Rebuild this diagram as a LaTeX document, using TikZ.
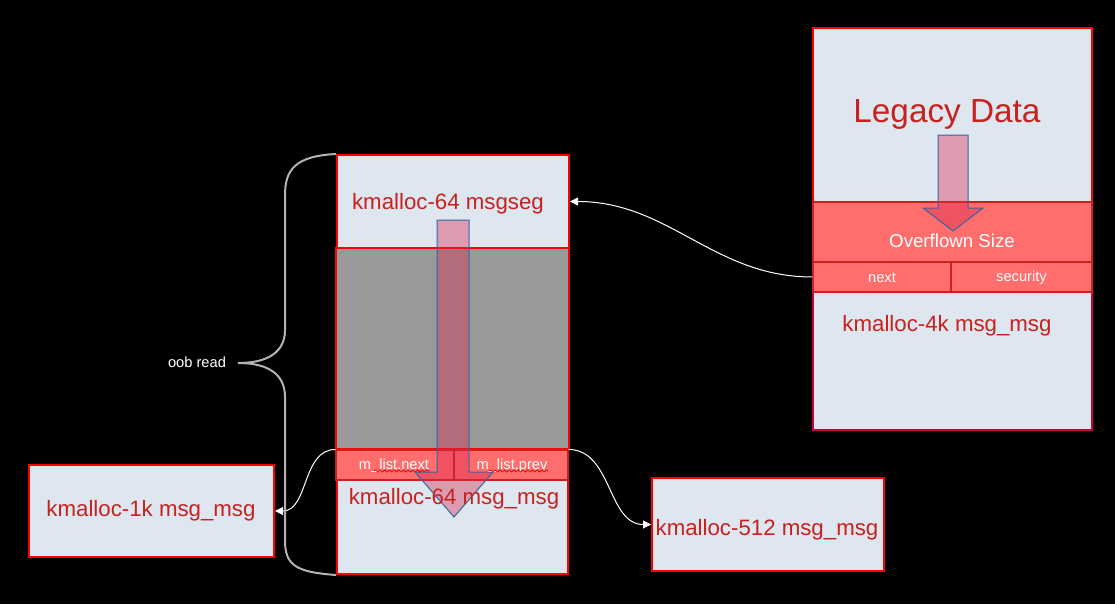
\documentclass[tikz,border=0pt]{standalone}
\usepackage{fontspec}
\setmainfont{Liberation Sans}
\usetikzlibrary{arrows.meta,decorations.pathmorphing}
\definecolor{boxfill}{HTML}{DEE6EF}
\definecolor{stripfill}{HTML}{FF6D6D}
\definecolor{txtred}{HTML}{C9211E}
\definecolor{bordred}{HTML}{FF0000}
\definecolor{crimson}{HTML}{C8003C}
\definecolor{arrowfill}{RGB}{217,43,79}
\definecolor{arrowline}{HTML}{3465A4}
\definecolor{grayfill}{HTML}{999999}
\definecolor{bracegray}{HTML}{B3B3B3}
\begin{document}
\begin{tikzpicture}[x=0.75pt,y=-0.75pt,
  box/.style={draw=bordred, line width=1.5pt, fill=boxfill, rectangle, inner sep=0pt},
  graybox/.style={draw=bordred, line width=1.5pt, fill=grayfill, rectangle, inner sep=0pt},
  cell/.style={draw=txtred, line width=0.8pt, fill=stripfill, rectangle, inner sep=0pt},
  lbl/.style={text=txtred, inner sep=0pt, font=\fontsize{16.7}{20}\selectfont},
  biglbl/.style={text=txtred, inner sep=0pt, font=\fontsize{25}{30}\selectfont},
  celltxt/.style={text=white, inner sep=0pt, font=\fontsize{11}{13}\selectfont},
  midtxt/.style={text=white, inner sep=0pt, font=\fontsize{14}{17}\selectfont},
  conn/.style={draw=white, line width=0.75pt, -{Triangle[length=6pt,width=6pt]}},
  bigarrow/.style={fill=arrowfill, fill opacity=0.4, draw=arrowline, draw opacity=1, line width=0.75pt},
  squig/.style={draw=red!85!black, line width=0.5pt, decorate, decoration={snake, amplitude=0.8pt, segment length=3.5pt}},
  bracestyle/.style={draw=bracegray, line width=1.5pt}
]
\fill[black] (0,0) rectangle (1115,604);
\useasboundingbox (0,0) rectangle (1115,604);

% middle column
\node[box, minimum width=174pt, minimum height=69.75pt] (seg) at (453,201.5) {};
\node[graybox, minimum width=174.75pt, minimum height=150.75pt] (gray) at (452.5,348.5) {};
\node[box, minimum width=173.25pt, minimum height=70.5pt] (low) at (452.5,527) {};
\node[cell, minimum width=88.5pt, minimum height=22.5pt] (mnext) at (395,465) {};
\node[cell, minimum width=85.5pt, minimum height=22.5pt] (mprev) at (511,465) {};

% right column
\node[box, minimum width=209.25pt, minimum height=130.5pt] (legacy) at (952.5,115) {};
\node[box, draw=crimson, minimum width=209.25pt, minimum height=103.5pt] (big) at (952.5,361) {};
\node[cell, minimum width=209.25pt, minimum height=45pt] (ovf) at (952.5,232) {};
\node[cell, minimum width=103.5pt, minimum height=22.5pt] (nxt) at (882,277) {};
\node[cell, minimum width=105.75pt, minimum height=22.5pt] (sec) at (1021.5,277) {};

% side boxes
\node[box, minimum width=183.75pt, minimum height=69pt] (k1) at (151.5,511) {};
\node[box, minimum width=174pt, minimum height=69.75pt] (k512) at (768,524.5) {};

% big arrows
\path[bigarrow] (437,220) -- (469,220) -- (469,472) -- (493,472) -- (454,517) -- (415,472) -- (437,472) -- cycle;
\path[bigarrow] (938,135) -- (968,135) -- (968,208) -- (983,208) -- (953,231) -- (923,208) -- (938,208) -- cycle;

% texts
\node[lbl] (segtxt) at (448,204) {kmalloc-64 msgseg};
\node[lbl] (lowtxt) at (454,499) {kmalloc-64 msg\_msg};
\node[celltxt] (nexttxt) at (394,466) {m\_list.next};
\node[celltxt] (prevtxt) at (512,466) {m\_list.prev};
\draw[squig] (374,471) -- (430,471);
\draw[squig] (489,471) -- (548,471);
\node[biglbl] (legtxt) at (947,114) {Legacy Data};
\node[midtxt] (ovftxt) at (952,241) {Overflown Size};
\node[celltxt] (nxttxt) at (882,278) {next};
\node[celltxt] (sectxt) at (1021.5,278) {security};
\node[lbl] (bigtxt) at (947,326) {kmalloc-4k msg\_msg};
\node[lbl] (k1txt) at (151,511) {kmalloc-1k msg\_msg};
\node[lbl] (k512txt) at (767,530) {kmalloc-512 msg\_msg};
\node[celltxt] (oob) at (197,362) {oob read};

% connectors
\draw[conn] (nxt.west) to[out=180,in=0] (seg.east);
\draw[conn] (mnext.north west) to[out=180,in=0] (k1.east);
\draw[conn] (mprev.north east) to[out=0,in=180] (k512.west);

% brace
\coordinate (btop) at (seg.north west);
\coordinate (bbot) at (low.south west);
\coordinate (btip) at (238,363);
\draw[bracestyle] (btop) .. controls (295,156) and (285,170) .. (285,195) -- (285,330)
  .. controls (285,352) and (268,363) .. (btip)
  .. controls (268,363) and (285,374) .. (285,397) -- (285,540)
  .. controls (285,565) and (295,572) .. (bbot);
\end{tikzpicture}
\end{document}
